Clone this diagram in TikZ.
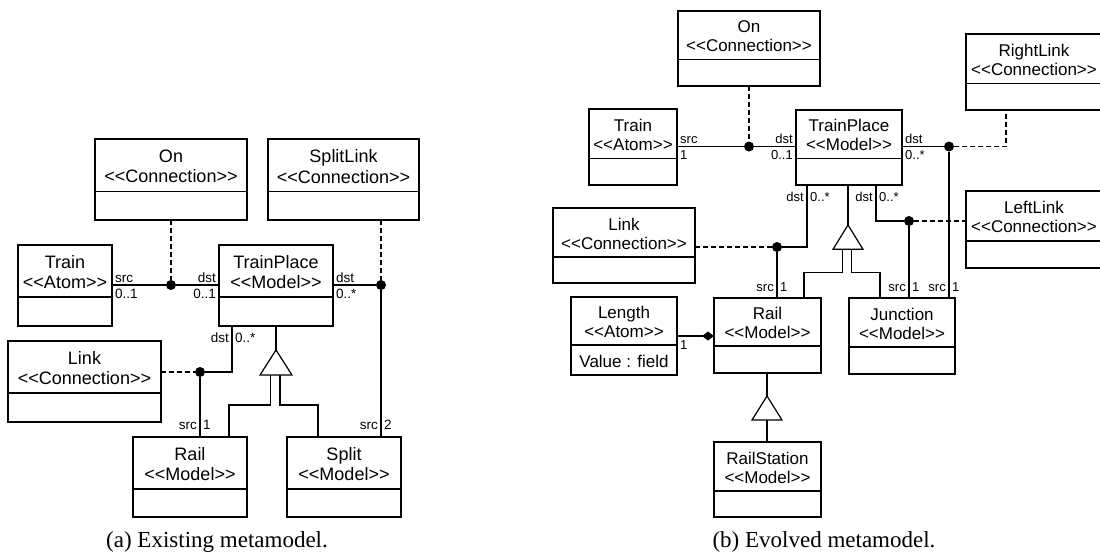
\documentclass[tikz,border=0pt]{standalone}
\usepackage{fontspec}
\newfontfamily\arialf{Liberation Sans}
\newfontfamily\capf{Liberation Serif}
\usetikzlibrary{arrows.meta,calc}
\tikzset{
  umlbox/.style={draw, line width=1.3pt, rectangle, inner sep=0pt, outer sep=0pt, anchor=north west},
  conn/.style={line width=1.2pt},
  dashconn/.style={line width=1.2pt, dash pattern=on 5pt off 3pt},
  jdot/.style={circle, fill, inner sep=0pt, outer sep=0pt, minimum size=10pt},
  lblA/.style={font=\arialf\fontsize{13.5}{15}\selectfont, inner sep=0pt},
  lblB/.style={font=\arialf\fontsize{13}{14}\selectfont, inner sep=0pt},
  ttlA/.style={font=\arialf\fontsize{18}{20.5}\selectfont, align=center, inner sep=0pt},
  ttlB/.style={font=\arialf\fontsize{17}{19}\selectfont, align=center, inner sep=0pt},
  capt/.style={font=\capf\fontsize{23}{26}\selectfont, inner sep=0pt, anchor=base},
}
% name, x1, y1, x2, y2, ysep, text style, text
\newcommand\mkbox[8]{%
  \node[umlbox, minimum width={(#4-#2)*1pt}, minimum height={(#5-#3)*1pt}] (#1) at (#2,#3) {};
  \draw[line width=1.3pt] (#1.west |- 0,#6) -- (#1.east |- 0,#6);
  \node[#7] (#1-t) at ({(#2+#4)/2},{(#3+#6)/2+1}) {#8};
}
\begin{document}
\begin{tikzpicture}[x=1pt,y=-1pt]
\useasboundingbox (0,0) rectangle (1100,555);

% ---------------- (a) ----------------
\mkbox{onA}{95}{139}{247}{220}{191.7}{ttlA}{On\\<<Connection>>}
\mkbox{splitlinkA}{268}{139}{419}{220}{191.7}{ttlA}{SplitLink\\<<Connection>>}
\mkbox{trainA}{18}{245}{112}{326}{297}{ttlA}{Train\\<<Atom>>}
\mkbox{tpA}{219}{245}{333}{326}{297}{ttlA}{TrainPlace\\<<Model>>}
\mkbox{linkA}{8}{341}{161}{422}{393}{ttlA}{Link\\<<Connection>>}
\mkbox{railA}{133}{437}{247}{517}{489}{ttlA}{Rail\\<<Model>>}
\mkbox{splitA}{287}{437}{401}{517}{489}{ttlA}{Split\\<<Model>>}

\node[jdot] (dA1) at (171,285) {};
\draw[conn] (trainA.east |- dA1) -- (dA1) -- (tpA.west |- dA1);
\draw[dashconn] (onA.south -| dA1) -- (dA1);
\node[jdot] (dA2) at (381,285) {};
\draw[conn] (tpA.east |- dA2) -- (dA2) -- (splitA.north -| dA2);
\draw[dashconn] (splitlinkA.south -| dA2) -- (dA2);
\node[jdot] (dA3) at (200,372) {};
\draw[dashconn] (linkA.east |- dA3) -- (dA3);
\draw[conn] (dA3) -| (tpA.south -| 232,0);
\draw[conn] (dA3) -- (railA.north -| dA3);

\coordinate (gA) at (276,350);
\draw[conn] (tpA.south) -- (gA);
\draw[conn] ($(gA)+(-5.3,25)$) -- ++(0,30) -| (railA.north -| 229,0);
\draw[conn] ($(gA)+(4,25)$) -- ++(0,30) -| (splitA.north -| 318,0);
\draw[conn, fill=white] (gA) -- ++(16,25) -- ++(-32,0) -- cycle;

\node[lblA, anchor=base west] at (115,282) {src};
\node[lblA, anchor=base west] at (115,298) {0..1};
\node[lblA, anchor=base east] at (216,282) {dst};
\node[lblA, anchor=base east] at (216,298) {0..1};
\node[lblA, anchor=base west] at (336,282) {dst};
\node[lblA, anchor=base west] at (336,298) {0..*};
\node[lblA, anchor=base east] at (229,342) {dst};
\node[lblA, anchor=base west] at (235,342) {0..*};
\node[lblA, anchor=base east] at (197,429) {src};
\node[lblA, anchor=base west] at (203,429) {1};
\node[lblA, anchor=base east] at (378,429) {src};
\node[lblA, anchor=base west] at (384,429) {2};

\node[capt] (capA) at (217,547) {(a) Existing metamodel.};

% ---------------- (b) ----------------
\mkbox{onB}{678}{11}{820}{86}{59.3}{ttlB}{On\\<<Connection>>}
\mkbox{trainB}{589}{109}{677}{185}{158.3}{ttlB}{Train\\<<Atom>>}
\mkbox{tpB}{796}{110}{902}{185}{158.3}{ttlB}{TrainPlace\\<<Model>>}
\mkbox{rightlinkB}{966}{34}{1102}{110}{83.3}{ttlB}{RightLink\\<<Connection>>}
\mkbox{linkB}{553}{208}{695}{283}{257}{ttlB}{Link\\<<Connection>>}
\mkbox{leftlinkB}{966}{191}{1102}{268}{241}{ttlB}{LeftLink\\<<Connection>>}
\mkbox{lengthB}{571}{297}{677}{375}{345}{ttlB}{Length\\<<Atom>>}
\node[ttlB] (lengthB-v) at (624,361) {Value : field};
\mkbox{railB}{714}{298}{821}{373}{346}{ttlB}{Rail\\<<Model>>}
\mkbox{junctionB}{849}{298}{955}{374}{347}{ttlB}{Junction\\<<Model>>}
\mkbox{railstationB}{714}{442}{821}{517}{491}{ttlB}{RailStation\\<<Model>>}

\node[jdot] (dB1) at (749,146.5) {};
\draw[conn] (trainB.east |- dB1) -- (dB1) -- (tpB.west |- dB1);
\draw[dashconn] (onB.south -| dB1) -- (dB1);
\node[jdot] (dB2) at (949,146.5) {};
\draw[conn] (tpB.east |- dB2) -- (dB2) -- (junctionB.north -| dB2);
\draw[dashconn] (dB2) -| (rightlinkB.south -| 1006,0);
\node[jdot] (dB3) at (777,247) {};
\draw[dashconn] (linkB.east |- dB3) -- (dB3);
\draw[conn] (dB3) -| (tpB.south -| 807,0);
\draw[conn] (dB3) -- (railB.north -| dB3);
\node[jdot] (dB4) at (909,221) {};
\draw[dashconn] (dB4) -- (leftlinkB.west |- dB4);
\draw[conn] (dB4) -| (tpB.south -| 876,0);
\draw[conn] (dB4) -- (junctionB.north -| dB4);

\coordinate (gB) at (848,225);
\draw[conn] (tpB.south -| gB) -- (gB);
\draw[conn] ($(gB)+(-5.3,24.3)$) -- ++(0,23.4) -| (railB.north -| 804,0);
\draw[conn] ($(gB)+(3.7,24.3)$) -- ++(0,23.4) -| (junctionB.north -| 880,0);
\draw[conn, fill=white] (gB) -- ++(15,24.3) -- ++(-30,0) -- cycle;

\coordinate (gB2) at (767,396);
\draw[conn] (railB.south -| gB2) -- (gB2);
\draw[conn] ($(gB2)+(0,24)$) -- (railstationB.north -| gB2);
\draw[conn, fill=white] (gB2) -- ++(15,24) -- ++(-30,0) -- cycle;

\draw[conn, -{Diamond[length=12pt,width=9pt]}] (lengthB.east |- 0,336) -- (railB.west |- 0,336);
\node[lblB, anchor=base west] at (680,349) {1};

\node[lblB, anchor=base west] at (680,143) {src};
\node[lblB, anchor=base west] at (680,159) {1};
\node[lblB, anchor=base east] at (793,143) {dst};
\node[lblB, anchor=base east] at (793,159) {0..1};
\node[lblB, anchor=base west] at (905,143) {dst};
\node[lblB, anchor=base west] at (905,159) {0..*};
\node[lblB, anchor=base east] at (804,201) {dst};
\node[lblB, anchor=base west] at (810,201) {0..*};
\node[lblB, anchor=base east] at (873,201) {dst};
\node[lblB, anchor=base west] at (879,201) {0..*};
\node[lblB, anchor=base east] at (774,291) {src};
\node[lblB, anchor=base west] at (780,291) {1};
\node[lblB, anchor=base east] at (906,291) {src};
\node[lblB, anchor=base west] at (912,291) {1};
\node[lblB, anchor=base east] at (946,291) {src};
\node[lblB, anchor=base west] at (952,291) {1};

\node[capt] (capB) at (824,547) {(b) Evolved metamodel.};
\end{tikzpicture}
\end{document}
